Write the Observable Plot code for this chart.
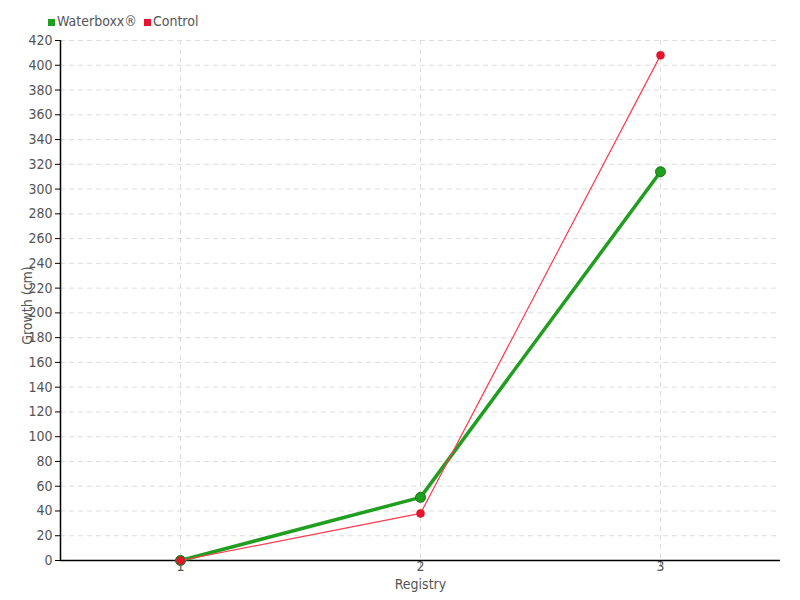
<!DOCTYPE html>
<html>
<head>
<meta charset="utf-8">
<script src="https://cdn.jsdelivr.net/npm/d3@7"></script>
<script src="https://cdn.jsdelivr.net/npm/@observablehq/plot@0.6"></script>
<style>
  body { margin: 0; background: #fff; }
  #wrap { position: relative; width: 800px; height: 600px; font-family: "DejaVu Sans Condensed", "DejaVu Sans", sans-serif; font-stretch: condensed; }
  #legend { position: absolute; left: 48px; top: 13px; font-size: 14px; color: #555; display: flex; gap: 7px; align-items: center; }
  #legend span.sw { display: inline-block; width: 7px; height: 7px; margin-right: 2px; vertical-align: middle; }
</style>
</head>
<body>
<div id="wrap"><div id="legend"></div></div>
<script>
const registry = [1, 2, 3];
const waterboxx = [0, 51, 314];
const control = [0, 38, 408];
const seriesNames = ["Waterboxx®", "Control"];
const seriesColors = ["#1f9e1f", "#e8142d"];
const yTicks = d3.range(0, 421, 20);

const wb = registry.map((r, i) => ({registry: r, value: waterboxx[i]}));
const ct = registry.map((r, i) => ({registry: r, value: control[i]}));

const font = `"DejaVu Sans Condensed", "DejaVu Sans", sans-serif`;

const chart = Plot.plot({
  width: 800,
  height: 600,
  marginTop: 40,
  marginBottom: 40,
  marginLeft: 60,
  marginRight: 20,
  style: {fontFamily: font, fontSize: "14px", color: "#555", background: "#fff", fontStretch: "condensed"},
  x: {domain: [0.5, 3.5], label: null},
  y: {domain: [0, 420], label: null},
  marks: [
    Plot.gridY(yTicks, {stroke: "#ddd", strokeOpacity: 1, strokeDasharray: "5,4"}),
    Plot.gridX(registry, {stroke: "#ddd", strokeOpacity: 1, strokeDasharray: "5,4"}),
    Plot.axisY(yTicks, {tickSize: 5, tickPadding: 3, stroke: "#000", fill: "#555", fontSize: 14, label: null, tickFormat: d => String(d)}),
    Plot.axisX(registry, {tickSize: 6, stroke: "#bbb", tickFormat: () => "", label: null}),
    Plot.axisX(registry, {tickSize: 0, tickPadding: 1, fill: "#555", fontSize: 14, tickFormat: d => String(d), label: null}),
    Plot.ruleY([0], {stroke: "#000", strokeWidth: 1.5}),
    Plot.ruleX([0.5], {stroke: "#000", strokeWidth: 1.5}),
    Plot.line(wb, {x: "registry", y: "value", stroke: "#1f9e1f", strokeWidth: 3.5}),
    Plot.dot(wb, {x: "registry", y: "value", r: 5, fill: "#1f9e1f", stroke: "#187818", strokeWidth: 1}),
    Plot.line(ct, {x: "registry", y: "value", stroke: "#ff3b4e", strokeWidth: 1.2}),
    Plot.dot(ct, {x: "registry", y: "value", r: 4, fill: "#e8142d", stroke: "#c01020", strokeWidth: 0.5}),
    Plot.text(["Registry"], {frameAnchor: "bottom", dy: 28, fill: "#555", fontSize: 14}),
    Plot.text(["Growth (cm)"], {frameAnchor: "left", textAnchor: "middle", lineAnchor: "middle", rotate: -90, dx: -33, dy: 5, fill: "#555", fontSize: 14})
  ]
});
document.getElementById("wrap").appendChild(chart);

const legend = document.getElementById("legend");
seriesNames.forEach((n, i) => {
  const item = document.createElement("div");
  item.innerHTML = `<span class="sw" style="background:${seriesColors[i]}"></span>${n}`;
  legend.appendChild(item);
});
</script>
</body>
</html>
